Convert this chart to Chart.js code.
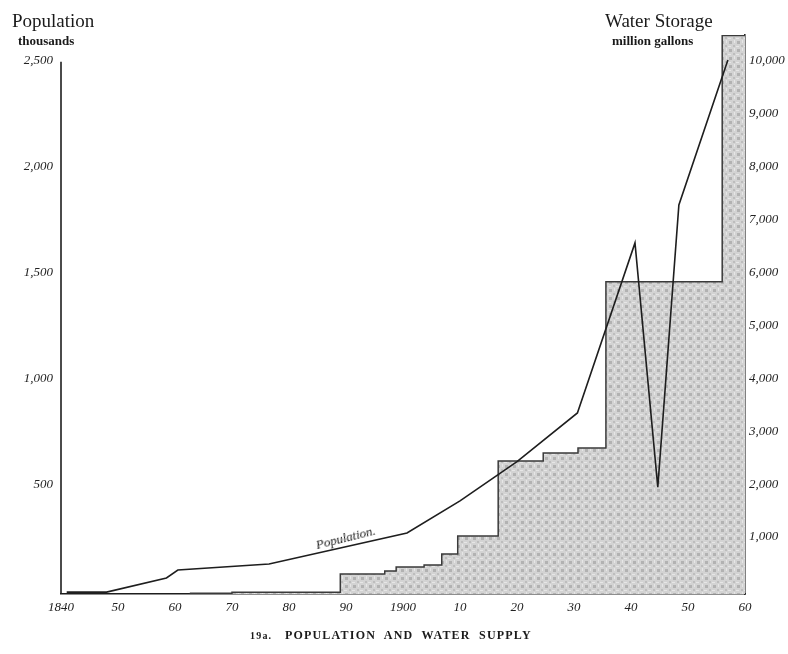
<!DOCTYPE html>
<html>
<head>
<meta charset="utf-8">
<script src="https://cdn.jsdelivr.net/npm/chart.js@4.4.0/dist/chart.umd.min.js"></script>
<style>
  html, body { margin: 0; padding: 0; background: #fff; }
  #wrap { position: relative; width: 788px; height: 654px; overflow: hidden; }
  #c { position: absolute; left: 0; top: 0; }
  .t { position: absolute; color: #1a1a1a; white-space: nowrap; z-index: 2; }
  .ttl { font-family: "Liberation Serif", "DejaVu Serif", serif; font-size: 19px; }
  .sub { font-family: "Liberation Serif", "DejaVu Serif", serif; font-size: 13px; font-weight: bold; }
  .cap { font-family: "Liberation Serif", "DejaVu Serif", serif; font-size: 12px; font-weight: bold; letter-spacing: 1.2px; }
  .lbl { font-family: "Liberation Serif", "DejaVu Serif", serif; font-size: 13px; font-style: italic; transform-origin: left bottom; }
</style>
</head>
<body>
<div id="wrap">
  <canvas id="c" width="788" height="654"></canvas>
  <div class="t ttl" style="left:12px; top:10px;">Population</div>
  <div class="t sub" style="left:18px; top:33px;">thousands</div>
  <div class="t ttl" style="left:605px; top:10px;">Water Storage</div>
  <div class="t sub" style="left:612px; top:33px;">million gallons</div>
  <div class="t lbl" style="left:318px; top:537px; transform: rotate(-14deg);">Population.</div>
  <div class="t cap" style="left:250px; top:628px;"><span style="font-size:10px">19a.</span>&nbsp;&nbsp;&nbsp;POPULATION&nbsp; AND&nbsp; WATER&nbsp; SUPPLY</div>
</div>
<script>
// ---- data ----
const popYears   = [1841, 1848, 1858.5, 1860.5, 1876.5, 1900.7, 1910, 1920, 1930.6, 1940.7, 1944.7, 1948.4, 1957];
const popValues  = [9, 9, 76, 113, 142, 288, 440, 625, 855, 1658, 505, 1837, 2522];   // thousands

const storageYears  = [1862.6, 1870, 1889, 1896.8, 1898.8, 1903.7, 1906.8, 1909.6, 1916.7, 1924.6, 1930.7, 1935.6, 1956, 1960];
const storageValues = [15, 35, 378, 435, 510, 548, 756, 1096, 2514, 2665, 2760, 5898, 10550, 10550]; // million gallons

const xTicks = [1840, 1850, 1860, 1870, 1880, 1890, 1900, 1910, 1920, 1930, 1940, 1950, 1960];
const popTicks = [500, 1000, 1500, 2000, 2500];
const storageTicks = [1000, 2000, 3000, 4000, 5000, 6000, 7000, 8000, 9000, 10000];

// ---- stipple pattern for the storage area ----
function makePattern(ctx) {
  const p = document.createElement('canvas');
  p.width = 8; p.height = 8;
  const g = p.getContext('2d');
  g.fillStyle = '#d3d3d3'; g.fillRect(0, 0, 8, 8);
  g.fillStyle = '#b2b2b2'; g.fillRect(1, 1, 3, 3);
  g.fillStyle = '#bdbdbd'; g.fillRect(5, 5, 2, 2);
  g.fillStyle = '#e6e6e6'; g.fillRect(6, 0, 1, 3); g.fillRect(0, 6, 3, 1);
  return ctx.createPattern(p, 'repeat');
}

const canvas = document.getElementById('c');
const ctx = canvas.getContext('2d');
const pattern = makePattern(ctx);

const tickFont = { family: '"Liberation Serif", "DejaVu Serif", serif', size: 13, style: 'italic' };
const fmt = v => v.toLocaleString('en-US');

const leftAxisLine = {
  id: 'leftAxisLine',
  afterDatasetsDraw(chart) {
    const y = chart.scales.yPop, a = chart.chartArea, c = chart.ctx;
    c.save();
    c.strokeStyle = '#1e1e1e'; c.lineWidth = 1.6;
    c.beginPath();
    c.moveTo(a.left, y.getPixelForValue(popTicks[popTicks.length - 1]) - 3);
    c.lineTo(a.left, a.bottom);
    c.stroke();
    c.restore();
  }
};

new Chart(ctx, {
  type: 'line',
  data: {
    datasets: [
      {
        label: 'Population',
        data: popYears.map((x, i) => ({ x, y: popValues[i] })),
        yAxisID: 'yPop',
        borderColor: '#1e1e1e',
        borderWidth: 1.6,
        pointRadius: 0,
        fill: false,
        tension: 0,
        order: 0
      },
      {
        label: 'Water Storage',
        data: storageYears.map((x, i) => ({ x, y: storageValues[i] })),
        yAxisID: 'yStore',
        stepped: 'before',
        borderColor: '#3a3a3a',
        borderWidth: 1.5,
        backgroundColor: pattern,
        pointRadius: 0,
        fill: 'origin',
        order: 1
      }
    ]
  },
  options: {
    responsive: false,
    animation: false,
    layout: { padding: { top: 35, left: 0, right: 0, bottom: 0 } },
    plugins: { legend: { display: false }, tooltip: { enabled: false }, title: { display: false } },
    scales: {
      x: {
        type: 'linear', min: 1840, max: 1960,
        afterBuildTicks: s => { s.ticks = xTicks.map(v => ({ value: v })); },
        afterFit: s => { s.height = 60; },
        grid: { display: false, drawTicks: false },
        border: { display: true, color: '#1e1e1e', width: 1.6 },
        ticks: {
          color: '#222', font: tickFont, padding: 6, maxRotation: 0, autoSkip: false,
          callback: v => (v === 1840 || v === 1900) ? String(v) : String(v % 100).padStart(2, '0')
        }
      },
      yPop: {
        type: 'linear', position: 'left', min: 0, max: 2640,
        afterBuildTicks: s => { s.ticks = popTicks.map(v => ({ value: v })); },
        afterFit: s => { s.width = 61; },
        grid: { display: false, drawTicks: false },
        border: { display: false },
        ticks: { color: '#222', font: tickFont, padding: 8, labelOffset: -4, callback: v => fmt(v) }
      },
      yStore: {
        type: 'linear', position: 'right', min: 0, max: 10560,
        afterBuildTicks: s => { s.ticks = storageTicks.map(v => ({ value: v })); },
        afterFit: s => { s.width = 43; },
        grid: { display: false, drawTicks: false },
        border: { display: true, color: '#2a2a2a', width: 1.6 },
        ticks: { color: '#222', font: tickFont, padding: 4, labelOffset: -4, callback: v => fmt(v) }
      }
    }
  },
  plugins: [leftAxisLine]
});
</script>
</body>
</html>
